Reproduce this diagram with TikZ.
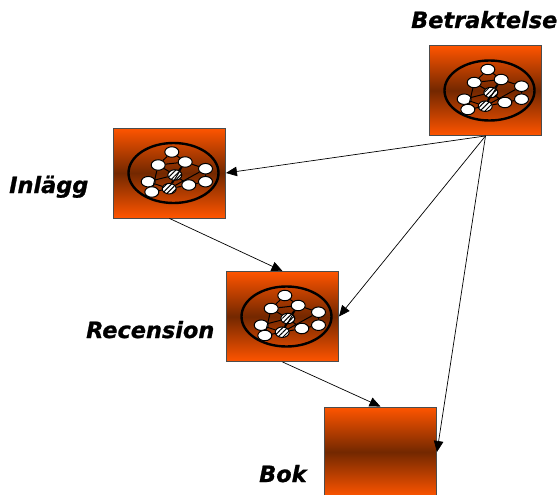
\documentclass[tikz,border=0pt]{standalone}
\usepackage{fontspec}
\setmainfont{DejaVu Sans}[BoldItalicFeatures={FakeBold=1}]
\usetikzlibrary{patterns,patterns.meta,shapes.geometric,positioning,arrows.meta}
\definecolor{boxedge}{RGB}{255,85,0}
\definecolor{boxmid}{RGB}{115,40,0}
\tikzset{
  x=1pt,y=-1pt,
  >={Triangle[length=11pt,width=9.5pt]},
  box/.style={rectangle,draw=black!70,line width=0.9pt,top color=boxedge,bottom color=boxedge,middle color=boxmid,
    minimum width=112pt,minimum height=90pt,inner sep=0pt},
  tag/.style={font=\bfseries\itshape\fontsize{22.4}{24}\selectfont,inner sep=0pt},
  rim/.style={ellipse,draw=black,line width=2.4pt,minimum width=90pt,minimum height=60pt,inner sep=0pt},
  dot/.style={ellipse,draw=black,fill=white,line width=1pt,minimum width=14pt,minimum height=10.5pt,inner sep=0pt},
  hatchdot/.style={dot,preaction={fill=white},pattern={Lines[angle=45,distance=3.4pt,line width=1pt]}},
  arc/.style={->,line width=0.7pt},
  netw/.pic={
    \node[rim] (-rim) at (4,0) {};
    \node[dot] (-a) at (2.3,-21) {};
    \node[dot] (-b) at (-11.3,-8) {};
    \node[dot] (-c) at (15.7,-11) {};
    \node[dot] (-d) at (36,-4.3) {};
    \node[hatchdot] (-e) at (5.3,2) {};
    \node[dot] (-f) at (-21.3,8.7) {};
    \node[dot] (-g) at (-17.7,19) {};
    \node[hatchdot] (-h) at (-0.3,15.7) {};
    \node[dot] (-i) at (19.3,12) {};
    \node[dot] (-j) at (36,8.7) {};
    \draw[-,line width=1pt] (-a)--(-b) (-a)--(-c) (-b)--(-c) (-c)--(-d) (-b)--(-e) (-c)--(-e)
      (-c)--(-h) (-d)--(-h) (-d)--(-j) (-f)--(-e) (-f)--(-h) (-g)--(-h) (-b)--(-g) (-e)--(-h)
      (-h)--(-i) (-e)--(-i) (-i)--(-j);
  }
}
\begin{document}
\begin{tikzpicture}
  \useasboundingbox (0,0) rectangle (557,495);
  \node[box] (betr) at (485.5,90.5) {};
  \node[box] (inl) at (169.5,173) {};
  \node[box] (rec) at (282.5,316.5) {};
  \begin{scope}
    \clip (0,0) rectangle (557,495);
    \node[box] (bok) at (380.5,452) {};
  \end{scope}
  \pic (nb) at (betr.center) {netw};
  \pic (ni) at (inl.center) {netw};
  \pic (nr) at (rec.center) {netw};

  \node[tag,anchor=base west] (tbetr) at (411,28) {Betraktelse};
  \node[tag,anchor=base west] (tinl) at (9,193) {Inlägg};
  \node[tag,anchor=base west] (trec) at (86,338) {Recension};
  \node[tag,anchor=base west] (tbok) at (259,482) {Bok};

  \draw[arc] (betr.south) -- (inl.east);
  \draw[arc] (betr.south) -- (rec.east);
  \draw[arc] (betr.south) -- (bok.east);
  \draw[arc] (inl.south) -- (rec.north);
  \draw[arc] (rec.south) -- (bok.north);
\end{tikzpicture}
\end{document}
